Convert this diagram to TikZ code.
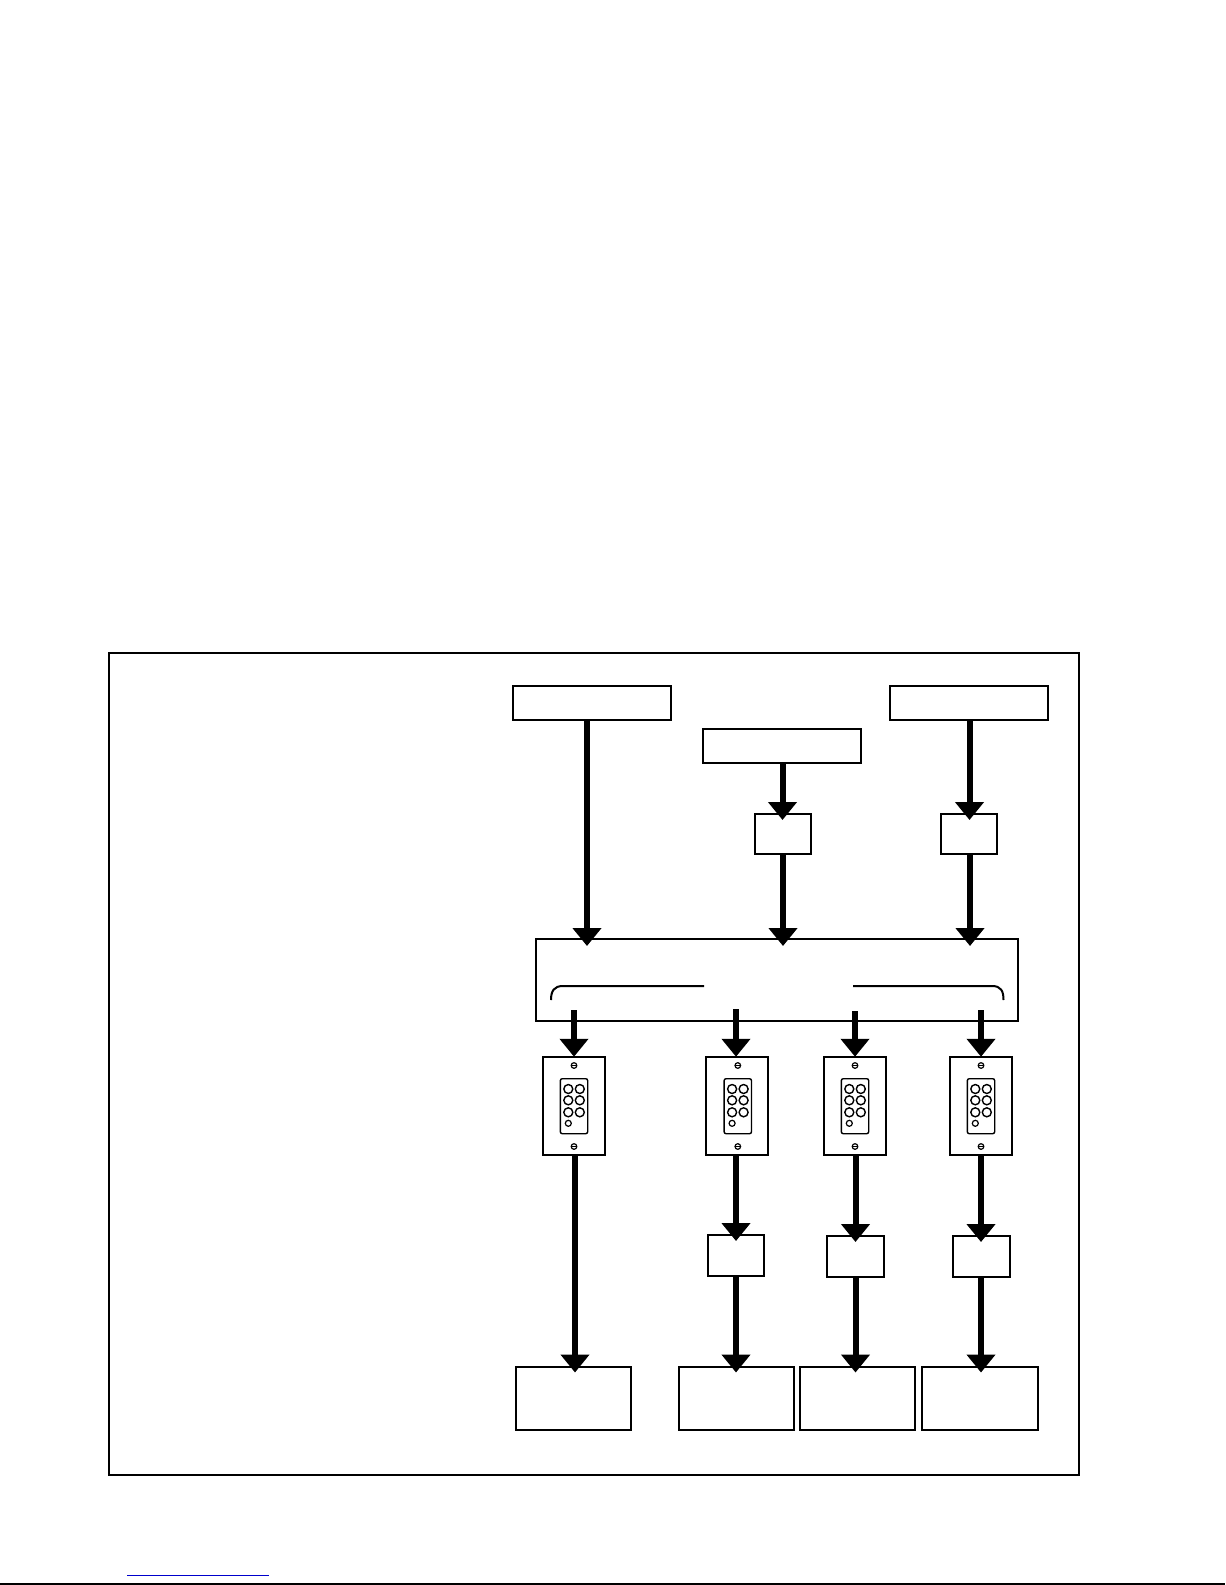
\documentclass[tikz,border=0pt]{standalone}
\usepackage{tikz}
\usetikzlibrary{arrows.meta}

\def\px{0.02cm}
\tikzset{
	frame/.style 2 args={draw,line width=2*\px,inner sep=0pt,outer sep=0pt,minimum width=#1*\px,minimum height=#2*\px},
	plate/.style={draw,line width=2*\px,inner sep=0pt,outer sep=0pt,minimum width=62*\px,minimum height=98.5*\px},
	feed/.style={line width=6*\px,-{Triangle[length=18*\px,width=28*\px]}}
}

\begin{document}
\begin{tikzpicture}[x=\px,y=-\px]
		\useasboundingbox (0,0) rectangle (1225,1585);
		% outer frame and the boxes
		\node[frame={970}{822}] (panel) at (594,1064) {};
		\node[frame={158}{34.5}] (srca) at (592,703) {};
		\node[frame={158}{34.5}] (srcb) at (782,746) {};
		\node[frame={158}{34.5}] (srcc) at (969,703) {};
		\node[frame={56}{40.5}] (adb) at (783.25,834) {};
		\node[frame={56}{40.5}] (adc) at (969,834) {};
		\node[frame={482.5}{81.5}] (hub) at (777,980) {};
		\node[frame={56.5}{40.5}] (ad2) at (736,1255.5) {};
		\node[frame={57}{40.5}] (ad3) at (855.5,1256.5) {};
		\node[frame={57}{40.5}] (ad4) at (981.5,1256.5) {};
		\node[frame={115}{63}] (out1) at (573.5,1398.5) {};
		\node[frame={115}{63}] (out2) at (736.75,1398.5) {};
		\node[frame={115}{63}] (out3) at (857.5,1398.5) {};
		\node[frame={116}{63}] (out4) at (980,1398.5) {};
		% wall plates
		\foreach \n/\x in {1/573.5,2/737.3,3/854.5,4/980.5}
		{
			\node[plate] (wp\n) at (\x,1106) {};
			\draw[line width=1.4*\px,rounded corners=2*\px] (\x-13.2,1078.7) rectangle (\x+14.2,1133.7);
			\foreach \a in {-17,-5.7,6.3}
			{
				\draw[line width=1.4*\px] (\x-5.2,1106+\a) circle (4.5);
				\draw[line width=1.4*\px] (\x+6.3,1106+\a) circle (4.5);
			}
			\draw[line width=1.2*\px] (\x-5.2,1123.3) circle (3);
			\foreach \a in {-40.5,40.5}
			{
				\draw[line width=1.2*\px] (\x+.5,1106+\a) circle (2.8);
				\draw[line width=1.2*\px] (\x-2.3,1106+\a) -- (\x+3.3,1106+\a);
			}
		}
		% brackets inside the hub
		\draw[line width=2*\px] (551,1000) .. controls (551,991) and (554,986) .. (563,986) -- (704,986);
		\draw[line width=2*\px] (853,986) -- (992,986) .. controls (1001,986) and (1003.5,991) .. (1003.5,1000);
		% tips and loose ends
		\coordinate (ina) at (587,946);
		\coordinate (inb) at (783,946);
		\coordinate (inc) at (970,946);
		\coordinate (tipb) at (782.5,820);
		\coordinate (tipc) at (969.5,820);
		\coordinate (st1) at (574,1010);
		\coordinate (st2) at (736,1009);
		\coordinate (st3) at (855,1011);
		\coordinate (st4) at (981,1010);
		\coordinate (tip2) at (736,1241);
		\coordinate (tip3) at (855.5,1242);
		\coordinate (tip4) at (981,1242);
		\coordinate (end1) at (575,1372.5);
		\coordinate (end2) at (736,1372.5);
		\coordinate (end3) at (855.5,1372.5);
		\coordinate (end4) at (981,1372.5);
		\path[feed]
		(srca.south-|ina) edge (ina)
		(srcb.south-|tipb) edge (tipb)
		(srcc.south-|tipc) edge (tipc)
		(adb.south-|inb) edge (inb)
		(adc.south-|inc) edge (inc)
		(st1) edge (wp1.north-|st1)
		(st2) edge (wp2.north-|st2)
		(st3) edge (wp3.north-|st3)
		(st4) edge (wp4.north-|st4)
		(wp1.south-|end1) edge (end1)
		(wp2.south-|tip2) edge (tip2)
		(wp3.south-|tip3) edge (tip3)
		(wp4.south-|tip4) edge (tip4)
		(ad2.south-|end2) edge (end2)
		(ad3.south-|end3) edge (end3)
		(ad4.south-|end4) edge (end4);
		% page rules
		\draw[line width=1.6*\px,blue!80!black] (127,1575.3) -- (268.7,1575.3);
		\draw[line width=2*\px] (0,1584.3) -- (1225,1584.3);
		\end{tikzpicture}
\end{document}
